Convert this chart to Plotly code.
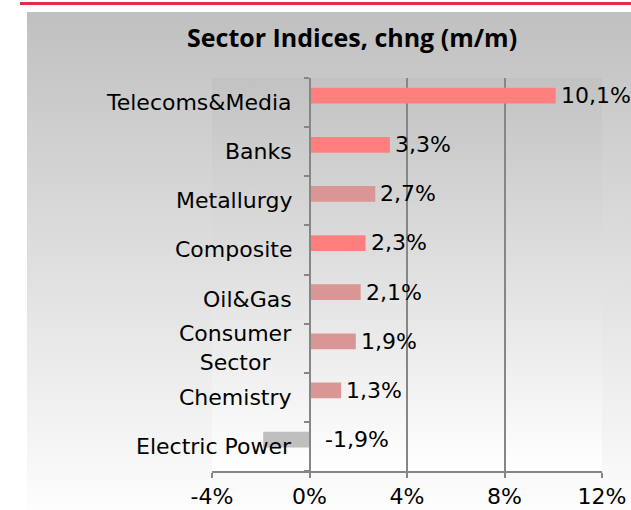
import base64
import plotly.graph_objects as go

# data, bottom to top as drawn
sectors = ["Electric Power", "Chemistry", "Consumer<br>Sector", "Oil&Gas",
           "Composite", "Metallurgy", "Banks", "Telecoms&Media"]
changes = [-1.9, 1.3, 1.9, 2.1, 2.3, 2.7, 3.3, 10.1]
bar_colors = ["#BFBFBF", "#DA9694", "#DA9694", "#DA9694",
              "#FF7F7F", "#DA9694", "#FF7F7F", "#FF7F7F"]
x_ticks = [-4, 0, 4, 8, 12]
x_ticklabels = ["-4%", "0%", "4%", "8%", "12%"]

W, H = 631, 510
L, R, T, B = 212, 29, 78, 39
pw, ph = W - L - R, H - T - B


def px_x(px):
    return (px - L) / pw


def px_y(py):
    return (H - B - py) / ph


def grad_svg(top, bottom):
    svg = ('<svg xmlns="http://www.w3.org/2000/svg" width="10" height="100" preserveAspectRatio="none">'
           '<defs><linearGradient id="g" x1="0" y1="0" x2="0" y2="1">'
           f'<stop offset="0" stop-color="{top}"/><stop offset="1" stop-color="{bottom}"/>'
           '</linearGradient></defs><rect width="10" height="100" fill="url(#g)"/></svg>')
    return "data:image/svg+xml;base64," + base64.b64encode(svg.encode()).decode()


font = "DejaVu Sans"
fsize = 22

fig = go.Figure()
fig.add_trace(go.Bar(
    x=changes, y=sectors, orientation="h",
    marker=dict(color=bar_colors, line=dict(width=0)),
    width=0.32, offset=-0.02,
    hoverinfo="skip",
))

# value labels
for s, v in zip(sectors, changes):
    fig.add_annotation(
        x=max(v, 0), y=s, xref="x", yref="y",
        text=f"{v:.1f}%".replace(".", ","),
        showarrow=False, xanchor="left", yanchor="middle",
        xshift=3 if v >= 0 else 13, yshift=7,
        font=dict(family=font, size=fsize, color="#000000"),
    )

# category labels next to the zero axis
for s in sectors:
    fig.add_annotation(
        x=0, y=s, xref="x", yref="y", text=s,
        showarrow=False, xanchor="right", yanchor="middle", align="center",
        xshift=-16,
        font=dict(family=font, size=fsize, color="#000000"),
    )

fig.add_annotation(
    x=px_x(352), y=px_y(37), xref="paper", yref="paper",
    text="<b>Sector Indices, chng (m/m)</b>", showarrow=False,
    xanchor="center", yanchor="middle",
    font=dict(family="Open Sans", size=25, color="#000000"),
)

fig.update_layout(
    width=W, height=H,
    margin=dict(l=L, r=R, t=T, b=B, pad=0, autoexpand=False),
    paper_bgcolor="#FFFFFF",
    plot_bgcolor="rgba(0,0,0,0)",
    showlegend=False,
    images=[
        dict(source=grad_svg("#C0C0C0", "#FDFDFD"), xref="paper", yref="paper",
             x=px_x(27), y=px_y(12), sizex=(W - 27) / pw, sizey=(H - 12) / ph,
             sizing="stretch", xanchor="left", yanchor="top", layer="below"),
        dict(source=grad_svg("#C2C2C2", "#FFFFFF"), xref="paper", yref="paper",
             x=0, y=1, sizex=1, sizey=1,
             sizing="stretch", xanchor="left", yanchor="top", layer="below"),
    ],
    shapes=[
        dict(type="line", xref="paper", yref="paper",
             x0=px_x(20), x1=px_x(W), y0=px_y(3.5), y1=px_y(3.5),
             line=dict(color="#E92A45", width=3)),
    ],
    xaxis=dict(
        range=[-4, 12], tickvals=x_ticks, ticktext=x_ticklabels,
        showgrid=True, gridcolor="#868686", gridwidth=1.5,
        zeroline=False, automargin=False,
        showline=True, linecolor="#868686", linewidth=2,
        ticks="outside", ticklen=5, tickcolor="#868686", tickwidth=1.5,
        tickfont=dict(family=font, size=fsize, color="#000000"),
        fixedrange=True,
    ),
    yaxis=dict(
        type="category", categoryorder="array", categoryarray=sectors,
        range=[-0.5, len(sectors) - 0.5],
        anchor="free", position=0.25,
        showline=True, linecolor="#868686", linewidth=2,
        ticks="outside", ticklen=5, tickcolor="#868686", tickwidth=1.5,
        tickson="boundaries", showticklabels=False,
        showgrid=False, zeroline=False, automargin=False,
        fixedrange=True,
    ),
)

# the page body has a default 8px margin; drop it so the figure sits at 0,0
fig.write_html("out.html",
               post_script="document.body.style.margin='0';document.body.style.overflow='hidden';",
               config={"displayModeBar": False})
